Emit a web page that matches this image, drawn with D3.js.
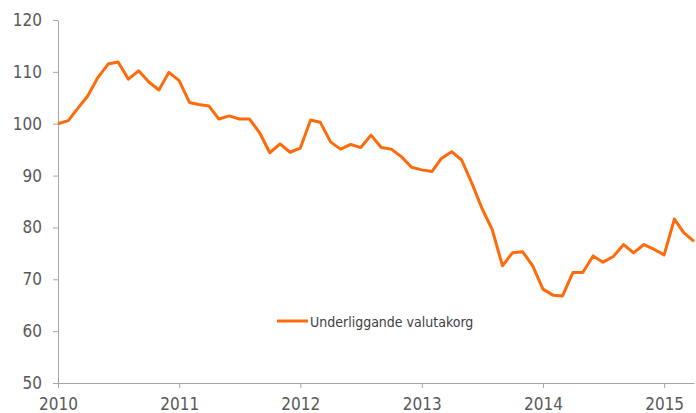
<!DOCTYPE html>
<html>
<head>
<meta charset="utf-8">
<script src="https://cdn.jsdelivr.net/npm/d3@7"></script>
<style>
  body { margin: 0; background: #fff; }
  .axis text { font-family: "DejaVu Sans Condensed", "DejaVu Sans", sans-serif; font-size: 17px; fill: #595959; }
  .axis path, .axis line { stroke: #a6a6a6; }
</style>
</head>
<body>
<div id="chart"></div>
<script>
// monthly values, Jan 2010 - Apr 2015
var startYear = 2010;
var values = [
  100.0, 100.6, 102.9, 105.4, 108.9, 111.5, 111.9, 108.6, 110.2, 108.1, 106.5, 109.9,
  108.3, 104.1, 103.7, 103.4, 100.9, 101.5, 100.9, 100.9, 98.2, 94.4, 96.1, 94.5,
  95.3, 100.7, 100.3, 96.5, 95.1, 96.0, 95.4, 97.8, 95.4, 95.1, 93.6, 91.6,
  91.1, 90.8, 93.3, 94.6, 93.0, 88.5, 83.7, 79.6, 72.6, 75.1, 75.3, 72.6,
  68.1, 66.9, 66.8, 71.3, 71.3, 74.5, 73.3, 74.4, 76.7, 75.1, 76.7, 75.8,
  74.7, 81.6, 79.0, 77.3
];
var yTicks = [50, 60, 70, 80, 90, 100, 110, 120];
var yearTicks = [2010, 2011, 2012, 2013, 2014, 2015];
var seriesName = "Underliggande valutakorg";

var data = values.map((v, i) => ({ date: new Date(startYear, i, 1), value: v }));

var width = 696, height = 413;
var margin = { top: 20, right: 2, bottom: 30, left: 58 };
var chartWidth = width - margin.left - margin.right;
var chartHeight = height - margin.top - margin.bottom;

var svg = d3.select("#chart").append("svg")
  .attr("width", width)
  .attr("height", height);
var g = svg.append("g")
  .attr("transform", `translate(${margin.left}, ${margin.top})`);

var xScale = d3.scaleTime()
  .domain([data[0].date, data[data.length - 1].date])
  .range([0, chartWidth]);
var yScale = d3.scaleLinear()
  .domain([50, 120])
  .range([chartHeight, 0]);

var xAxis = d3.axisBottom(xScale)
  .tickValues(yearTicks.map(y => new Date(y, 0, 1)))
  .tickFormat(d3.timeFormat("%Y"))
  .tickSizeInner(5)
  .tickSizeOuter(0)
  .tickPadding(10);
var yAxis = d3.axisLeft(yScale)
  .tickValues(yTicks)
  .tickSizeInner(5)
  .tickSizeOuter(0)
  .tickPadding(11);

g.append("g").attr("class", "x axis")
  .attr("transform", `translate(0, ${chartHeight})`)
  .call(xAxis);
g.append("g").attr("class", "y axis")
  .call(yAxis);

var line = d3.line()
  .x(d => xScale(d.date))
  .y(d => yScale(d.value));

g.append("path")
  .datum(data)
  .attr("fill", "none")
  .attr("stroke", "#ff6a0a")
  .attr("stroke-width", 3)
  .attr("stroke-linejoin", "round")
  .attr("d", line);

// legend
var legend = svg.append("g").attr("transform", "translate(277, 321)");
legend.append("line")
  .attr("x1", 0).attr("x2", 31)
  .attr("stroke", "#ff6a0a").attr("stroke-width", 3);
legend.append("text")
  .attr("x", 33).attr("y", 6)
  .style("font-family", "\"DejaVu Sans Condensed\", \"DejaVu Sans\", sans-serif")
  .style("font-size", "14px")
  .style("fill", "#404040")
  .text(seriesName);
</script>
</body>
</html>
